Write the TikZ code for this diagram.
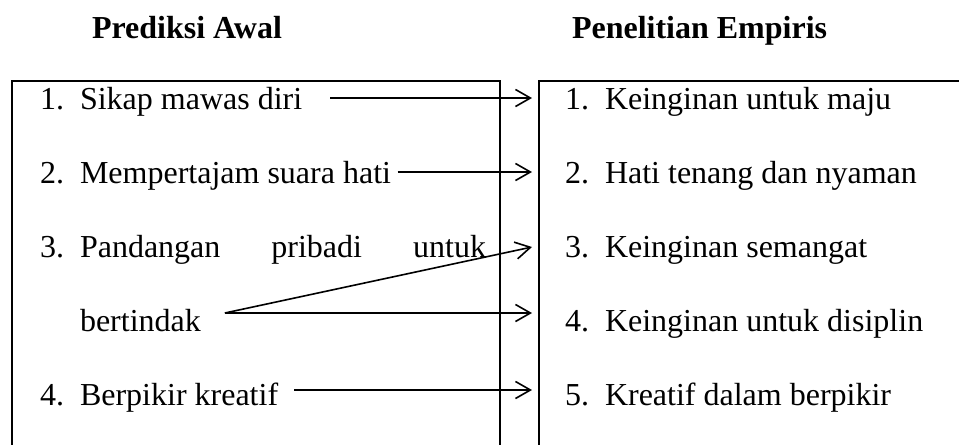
\documentclass[tikz,border=0pt]{standalone}
\usepackage{fontspec}
\setmainfont{Liberation Serif}
\usetikzlibrary{arrows.meta}
\begin{document}
\begin{tikzpicture}[x=0.375pt,y=-0.375pt,
  every node/.style={inner sep=0pt,outer sep=0pt,font=\fontsize{12pt}{14pt}\selectfont},
  title/.style={anchor=base west,font=\fontsize{12pt}{14pt}\selectfont\bfseries},
  item/.style={anchor=base west},
  frame/.style={line width=0.75pt},
  link/.style={line width=0.6pt,-{Straight Barb[length=5.6pt,width=6.4pt,line width=0.6pt]}}]
\useasboundingbox (0,0) rectangle (959,444);

% headings
\node[title] (h1) at (92,38) {Prediksi Awal};
\node[title] (h2) at (572,38) {Penelitian Empiris};

% the two frames, open at the bottom (and at the right for the second)
\draw[frame] (12,460) -- (12,81) -- (500,81) -- (500,460);
\draw[frame] (539,460) -- (539,81) -- (970,81);

% left column
\node[item] (n1) at (40,109) {1.};
\node[item] (p1) at (80,109) {Sikap mawas diri};
\node[item] (n2) at (40,183) {2.};
\node[item] (p2) at (80,183) {Mempertajam suara hati};
\node[item] (n3) at (40,257) {3.};
\node[item] (p3) at (80,257) {\makebox[152.25pt][s]{Pandangan\hfill pribadi\hfill untuk}};
\node[item] (p3b) at (80,331) {bertindak};
\node[item] (n4) at (40,405) {4.};
\node[item] (p4) at (80,405) {Berpikir kreatif};

% right column
\node[item] (m1) at (565,109) {1.};
\node[item] (q1) at (605,109) {Keinginan untuk maju};
\node[item] (m2) at (565,183) {2.};
\node[item] (q2) at (605,183) {Hati tenang dan nyaman};
\node[item] (m3) at (565,257) {3.};
\node[item] (q3) at (605,257) {Keinginan semangat};
\node[item] (m4) at (565,331) {4.};
\node[item] (q4) at (605,331) {Keinginan untuk disiplin};
\node[item] (m5) at (565,405) {5.};
\node[item] (q5) at (605,405) {Kreatif dalam berpikir};

% arrow ends just before the right frame
\coordinate (t1) at (532,98);
\coordinate (t2) at (532,172);
\coordinate (t3) at (532,247);
\coordinate (t4) at (532,313);
\coordinate (t5) at (532,390);
\coordinate (s1) at ([xshift=10.5pt]p1.base east |- t1);
\coordinate (s2) at ([xshift=2.5pt]p2.base east |- t2);
\coordinate (s3) at ([xshift=9pt]p3b.base east |- t4);
\coordinate (s5) at ([xshift=6pt]p4.base east |- t5);

\draw[link] (s1) -- (t1);
\draw[link] (s2) -- (t2);
\draw[link] (s3) -- (t3);
\draw[link] (s3) -- (t4);
\draw[link] (s5) -- (t5);
\end{tikzpicture}
\end{document}
